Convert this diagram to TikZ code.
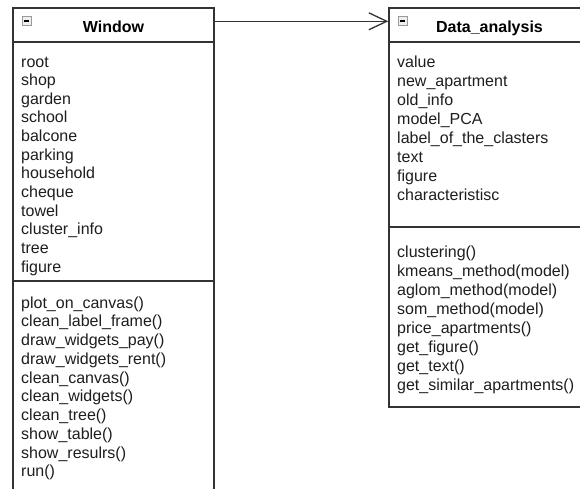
\documentclass[tikz,border=0pt]{standalone}
\usepackage{fontspec}
\setmainfont{Liberation Sans}
\usetikzlibrary{arrows.meta,calc}
\definecolor{linec}{HTML}{333333}
\definecolor{textc}{HTML}{1E1E1E}
\tikzset{
  classbox/.style={draw=linec, line width=1.4pt, inner sep=0pt, fill=white},
  sepline/.style={draw=linec, line width=1.8pt},
  item/.style={anchor=base west, inner sep=0pt, text=textc, font=\fontsize{16}{18}\selectfont},
  titletext/.style={anchor=base, inner sep=0pt, text=black, font=\fontsize{16}{18}\selectfont\bfseries},
  iconbox/.style={draw=gray!80, fill=gray!12, line width=0.8pt, minimum size=9pt, inner sep=0pt},
  assoc/.style={draw=linec, line width=1.3pt, -{Straight Barb[length=18pt,width=17pt,line width=1.3pt]}}
}
\begin{document}
\begin{tikzpicture}[x=1pt,y=-1pt]
\useasboundingbox (0,0) rectangle (580,488);
\clip (0,0) rectangle (580,488);
\fill[white] (0,0) rectangle (580,488);
% boxes
\node[classbox, minimum width=201pt, minimum height=492pt] (winbox) at (113.5,254) {};
\node[classbox, minimum width=201pt, minimum height=399pt] (databox) at (489.5,207.5) {};
% separators
\draw[sepline] ($(winbox.north west)+(0,35)$) -- ($(winbox.north east)+(0,35)$);
\draw[sepline] ($(winbox.north west)+(0,274)$) -- ($(winbox.north east)+(0,274)$);
\draw[sepline] ($(databox.north west)+(0,35)$) -- ($(databox.north east)+(0,35)$);
\draw[sepline] ($(databox.north west)+(0,220)$) -- ($(databox.north east)+(0,220)$);
% icons
\node[iconbox] (wicon) at (26.5,21) {};
\draw[line width=1.1pt, black] ([xshift=-2.5pt]wicon.center) -- ([xshift=2.5pt]wicon.center);
\node[iconbox] (dicon) at (402.5,21) {};
\draw[line width=1.1pt, black] ([xshift=-2.5pt]dicon.center) -- ([xshift=2.5pt]dicon.center);
% titles
\node[titletext] (wtitle) at (113.5,32) {Window};
\node[titletext] (dtitle) at (489.5,32) {Data\_analysis};
% window attributes
\foreach \t [count=\i from 0] in {root,shop,garden,school,balcone,parking,household,cheque,towel,cluster\_info,tree,figure}
  \node[item] (wa\i) at (21,{67+18.65*\i}) {\t};
% window methods
\foreach \t [count=\i from 0] in {plot\_on\_canvas(),clean\_label\_frame(),draw\_widgets\_pay(),draw\_widgets\_rent(),clean\_canvas(),clean\_widgets(),clean\_tree(),show\_table(),show\_resulrs(),run()}
  \node[item] (wm\i) at (21,{308+18.75*\i}) {\t};
% data attributes
\foreach \t [count=\i from 0] in {value,new\_apartment,old\_info,model\_PCA,label\_of\_the\_clasters,text,figure,characteristisc}
  \node[item] (da\i) at (397,{67+19*\i}) {\t};
% data methods
\foreach \t [count=\i from 0] in {clustering(),kmeans\_method(model),aglom\_method(model),som\_method(model),price\_apartments(),get\_figure(),get\_text(),get\_similar\_apartments()}
  \node[item] (dm\i) at (397,{257+19*\i}) {\t};
% association
\draw[assoc] ([yshift=-14pt]winbox.north east) -- ([yshift=-14pt]databox.north west);
\end{tikzpicture}
\end{document}
